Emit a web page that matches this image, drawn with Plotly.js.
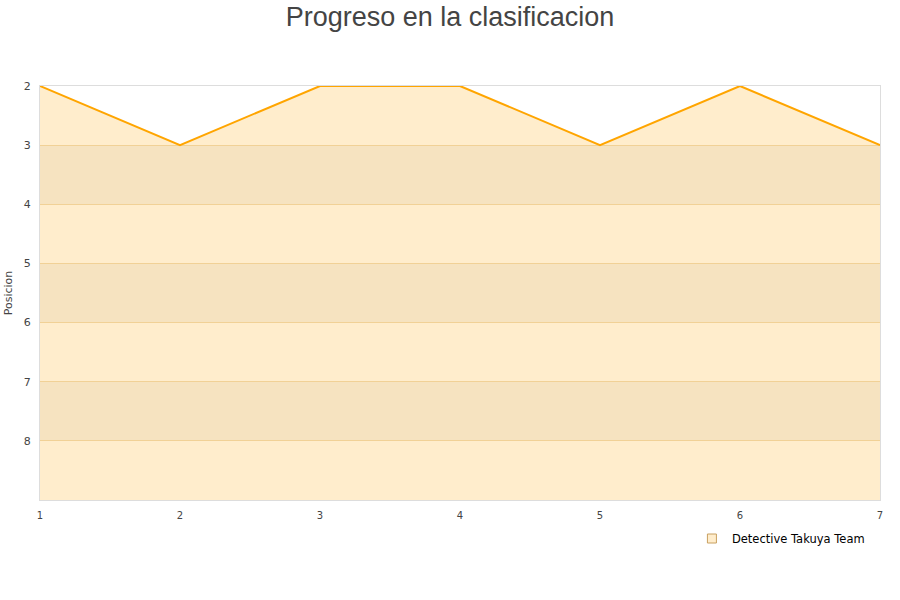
<!DOCTYPE html>
<html><head><meta charset="utf-8">
<script src="https://cdn.plot.ly/plotly-3.0.1.min.js"></script>
<style>body{margin:0}#c{width:900px;height:600px}</style>
</head><body><div id="c"></div>
<script>
var jornadas = [1, 2, 3, 4, 5, 6, 7];
var posiciones = [2, 3, 2, 2, 3, 2, 3];
var teamName = "Detective Takuya Team";
var yTicks = [2, 3, 4, 5, 6, 7, 8];
var bandStarts = [3, 5, 7];

var shapes = bandStarts.map(function(b){
  return {type:'rect', xref:'paper', yref:'y', x0:0, x1:1, y0:b, y1:b+1,
          fillcolor:'#F4F3F1', line:{width:0}, layer:'below'};
});

var data = [
  {x: jornadas, y: jornadas.map(function(){return 9;}), mode:'lines', line:{width:0}, hoverinfo:'skip', showlegend:false},
  {x: jornadas, y: posiciones, mode:'lines', fill:'tonexty', fillcolor:'rgba(255,165,0,0.2)',
   line:{color:'#FFA500', width:2}, name: teamName, showlegend:false},
  {x:[null], y:[null], mode:'markers', name: teamName,
   marker:{symbol:'square', size:9, color:'#FFEDCC', line:{color:'#C8A060', width:1}}}
];

var layout = {
  width:900, height:600,
  margin:{l:40, r:20, t:86, b:100},
  paper_bgcolor:'#fff', plot_bgcolor:'#fff',
  font:{family:'DejaVu Sans, sans-serif', size:11, color:'#444'},
  title:{text:'Progreso en la clasificacion', x:0.5, xanchor:'center', yref:'container', y:0.988, yanchor:'top',
         font:{family:'Liberation Sans, Arial, sans-serif', size:27, color:'#444'}},
  xaxis:{range:[1,7], tickvals:jornadas, showgrid:false, zeroline:false, showline:true,
         linecolor:'#ddd', mirror:true, ticks:'', tickfont:{size:10}, ticklabelstandoff:6},
  yaxis:{range:[9,2], tickvals:yTicks, showgrid:true, gridcolor:'#EEDCBC', zeroline:false,
         showline:true, linecolor:'#ddd', mirror:true, ticks:'', tickfont:{size:11}, ticklabelstandoff:6,
         title:{text:'Posicion', font:{size:11}, standoff:8}},
  shapes: shapes,
  showlegend:true,
  legend:{x:0.988, xanchor:'right', y:-0.058, yanchor:'top', bgcolor:'rgba(0,0,0,0)',
          font:{size:11.5, color:'#000'}}
};
Plotly.newPlot('c', data, layout, {displayModeBar:false});
</script></body></html>
